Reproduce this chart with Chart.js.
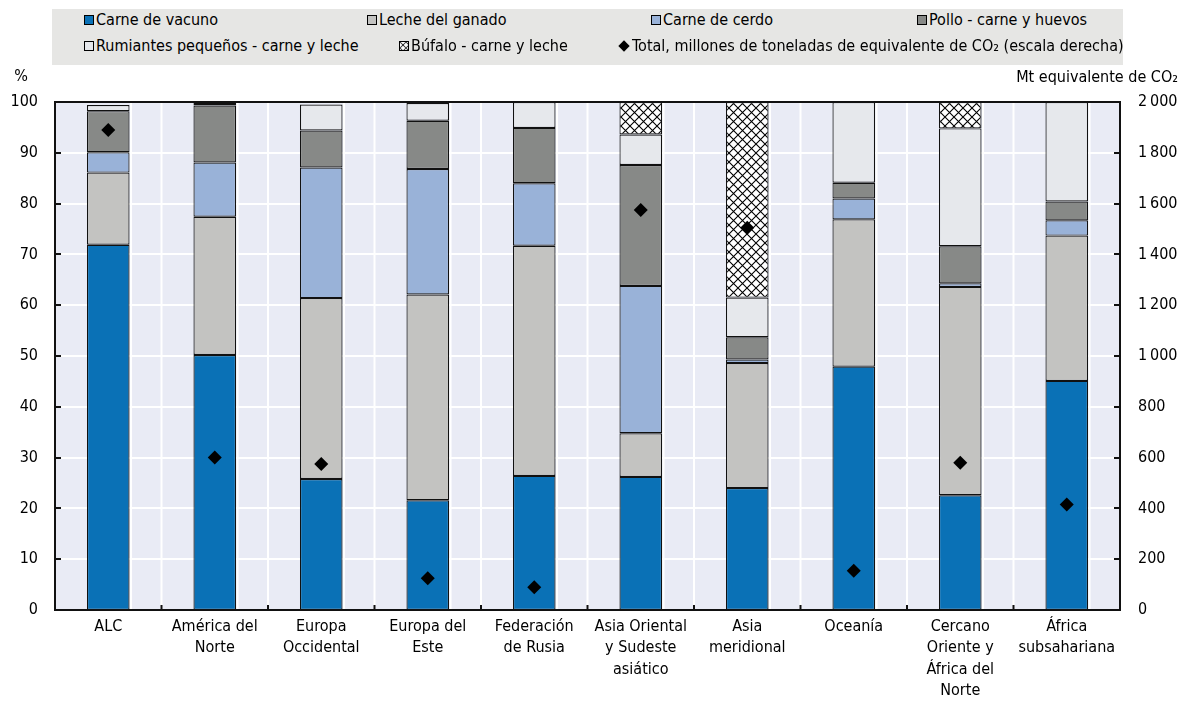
<!DOCTYPE html>
<html lang="es">
<head>
<meta charset="utf-8">
<title>Emisiones ganaderas por región</title>
<script src="https://cdn.jsdelivr.net/npm/chart.js@4.4.1/dist/chart.umd.min.js"></script>
<style>
  html, body { margin: 0; padding: 0; background: #fff; }
  #wrap { position: relative; width: 1180px; height: 702px; overflow: hidden;
          font-family: "DejaVu Sans Condensed", "Liberation Sans", sans-serif; }
  #chart { position: absolute; left: 0; top: 0; }
  #legend { position: absolute; left: 52px; top: 9px; width: 1071px; height: 56px; background: #E6E6E4; }
  .item { position: absolute; height: 22px; line-height: 22px; display: flex; align-items: center;
          font-size: 16px; color: #000; white-space: nowrap; }
  .sw { box-sizing: border-box; width: 10px; height: 10px; border: 1px solid #000; margin-right: 2px; flex: none; }
  .dia { width: 8px; height: 8px; background: #000; transform: rotate(45deg); margin: 0 4px 0 1px; flex: none; }
</style>
</head>
<body>
<div id="wrap">
  <canvas id="chart" width="1180" height="702"></canvas>
  <div id="legend"></div>
</div>
<script>
// Regions (x axis)
const categories = [
  'ALC',
  ['América del', 'Norte'],
  ['Europa', 'Occidental'],
  ['Europa del', 'Este'],
  ['Federación', 'de Rusia'],
  ['Asia Oriental', 'y Sudeste', 'asiático'],
  ['Asia', 'meridional'],
  'Oceanía',
  ['Cercano', 'Oriente y', 'África del', 'Norte'],
  ['África', 'subsahariana']
];

// Share of emissions by product, % (left scale)
const carneVacuno = [71.9, 50.2, 25.8, 21.6, 26.4, 26.2, 24.0, 47.9, 22.6, 45.1];
const lecheGanado = [14.2, 27.2, 35.6, 40.5, 45.3, 8.6, 24.6, 29.0, 41.0, 28.6];
const carneCerdo  = [4.0, 10.7, 25.7, 24.7, 12.3, 29.0, 0.7, 4.1, 0.7, 3.0];
const polloHuevos = [8.1, 11.2, 7.3, 9.5, 10.9, 23.8, 4.4, 3.1, 7.3, 3.7];
const rumiantes   = [1.2, 0.5, 5.1, 3.5, 5.1, 6.0, 7.8, 15.9, 23.2, 19.6];
const bufalo      = [null, null, null, null, null, 6.4, 38.5, null, 5.2, null];

// Total emissions, Mt CO2 equivalent (right scale)
const totalMt = [1890, 600, 575, 125, 90, 1575, 1505, 155, 580, 415];

// Tick labels
const pctTicks = ['0', '10', '20', '30', '40', '50', '60', '70', '80', '90', '100'];
const mtTicks = ['0', '200', '400', '600', '800', '1\u2009000', '1\u2009200', '1\u2009400', '1\u2009600', '1\u2009800', '2\u2009000'];

const FONT = '"DejaVu Sans Condensed", "Liberation Sans", sans-serif';
const FONT_SIZE = 16;

// Cross-hatch fill used for the buffalo segments
function makeHatch() {
  const s = 9;
  const c = document.createElement('canvas');
  c.width = s; c.height = s;
  const g = c.getContext('2d');
  g.fillStyle = '#fff';
  g.fillRect(0, 0, s, s);
  g.strokeStyle = '#000';
  g.lineWidth = 1.1;
  g.beginPath();
  g.moveTo(0, 0); g.lineTo(s, s);
  g.moveTo(s, 0); g.lineTo(0, s);
  g.stroke();
  return c;
}
const hatchCanvas = makeHatch();
const ctx = document.getElementById('chart').getContext('2d');
const hatch = ctx.createPattern(hatchCanvas, 'repeat');

function barSet(label, data, color) {
  return {
    type: 'bar', label, data,
    backgroundColor: color,
    borderColor: '#111',
    borderWidth: 1.2,
    borderSkipped: false,
    barPercentage: 0.4,
    categoryPercentage: 1.0,
    yAxisID: 'y',
    stack: 's',
    order: 1
  };
}

const datasets = [
  barSet('Carne de vacuno', carneVacuno, '#0A71B6'),
  barSet('Leche del ganado', lecheGanado, '#C3C3C1'),
  barSet('Carne de cerdo', carneCerdo, '#99B2D8'),
  barSet('Pollo - carne y huevos', polloHuevos, '#878987'),
  barSet('Rumiantes pequeños - carne y leche', rumiantes, '#E6E8EC'),
  barSet('Búfalo - carne y leche', bufalo, hatch),
  {
    type: 'line',
    label: 'Total, millones de toneladas de equivalente de CO\u2082 (escala derecha)',
    data: totalMt,
    showLine: false,
    pointStyle: 'rectRot',
    pointRadius: 7,
    pointBackgroundColor: '#000',
    pointBorderColor: '#000',
    pointBorderWidth: 0,
    yAxisID: 'y2',
    order: 0
  }
];

// Plot background, white grid, frame, inner tick marks and axis titles
const frame = {
  id: 'frame',
  beforeDatasetsDraw(chart) {
    const { ctx, chartArea: a, scales } = chart;
    const x = scales.x, y = scales.y;
    const step = x.getPixelForValue(1) - x.getPixelForValue(0);
    ctx.save();
    ctx.fillStyle = '#E9EBF5';
    ctx.fillRect(a.left, a.top, a.right - a.left, a.bottom - a.top);
    ctx.strokeStyle = '#ffffff';
    ctx.lineWidth = 2;
    ctx.beginPath();
    y.ticks.forEach(t => {
      const py = Math.round(y.getPixelForValue(t.value));
      ctx.moveTo(a.left, py); ctx.lineTo(a.right, py);
    });
    categories.forEach((c, i) => {
      const cx = x.getPixelForValue(i);
      [cx - step / 2, cx + step * 0.2 + 1.5].forEach(px => {
        ctx.moveTo(px, a.top); ctx.lineTo(px, a.bottom);
      });
    });
    ctx.stroke();
    ctx.restore();
  },
  afterDatasetsDraw(chart) {
    const { ctx, chartArea: a, scales } = chart;
    const x = scales.x, y = scales.y;
    const step = x.getPixelForValue(1) - x.getPixelForValue(0);
    ctx.save();
    ctx.strokeStyle = '#111';
    ctx.lineWidth = 2;
    ctx.beginPath();
    y.ticks.forEach(t => {
      const py = Math.round(y.getPixelForValue(t.value));
      ctx.moveTo(a.left, py); ctx.lineTo(a.left + 6, py);
      ctx.moveTo(a.right - 6, py); ctx.lineTo(a.right, py);
    });
    for (let i = 1; i < categories.length; i++) {
      const px = x.getPixelForValue(i) - step / 2;
      ctx.moveTo(px, a.bottom); ctx.lineTo(px, a.bottom - 5);
    }
    ctx.stroke();
    ctx.strokeRect(a.left, a.top, a.right - a.left, a.bottom - a.top);
    ctx.restore();
  },
  afterDraw(chart) {
    const { ctx, chartArea: a } = chart;
    ctx.save();
    ctx.fillStyle = '#000';
    ctx.font = FONT_SIZE + 'px ' + FONT;
    ctx.textBaseline = 'middle';
    ctx.textAlign = 'center';
    ctx.fillText('%', 21, a.top - 25);
    ctx.textAlign = 'right';
    ctx.fillText('Mt equivalente de CO\u2082', 1178, a.top - 24);
    ctx.restore();
  }
};

const chart = new Chart(ctx, {
  data: { labels: categories, datasets },
  options: {
    responsive: false,
    animation: false,
    devicePixelRatio: 1,
    layout: { padding: { top: 102, left: 0, right: 0, bottom: 0 } },
    plugins: { legend: { display: false }, tooltip: { enabled: false } },
    scales: {
      x: {
        stacked: true,
        grid: { display: false, drawTicks: false },
        border: { display: false },
        ticks: {
          color: '#000', padding: 6, maxRotation: 0, autoSkip: false,
          font: { family: FONT, size: FONT_SIZE, lineHeight: 1.34 }
        },
        afterFit(s) { s.height = 92; }
      },
      y: {
        position: 'left', stacked: true, min: 0, max: 100,
        grid: { display: false, drawTicks: false },
        border: { display: false },
        ticks: {
          stepSize: 10, color: '#000', padding: 17,
          font: { family: FONT, size: FONT_SIZE },
          callback: (v, i) => pctTicks[i]
        },
        afterFit(s) { s.width = 55; }
      },
      y2: {
        position: 'right', stacked: false, min: 0, max: 2000,
        grid: { display: false, drawTicks: false },
        border: { display: false },
        ticks: {
          stepSize: 200, color: '#000', padding: 18,
          font: { family: FONT, size: FONT_SIZE },
          callback: (v, i) => mtTicks[i]
        },
        afterFit(s) { s.width = 60; }
      }
    }
  },
  plugins: [frame]
});

// Two-row legend built from the chart's own datasets
const legendSlots = [[84, 20], [367, 20], [651, 20], [917, 20], [84, 46], [399, 46], [619, 46]];
const legendBox = document.getElementById('legend');
const hatchURL = hatchCanvas.toDataURL();
chart.data.datasets.forEach((ds, i) => {
  const item = document.createElement('div');
  item.className = 'item';
  item.style.left = (legendSlots[i][0] - 52) + 'px';
  item.style.top = (legendSlots[i][1] - 9 - 11) + 'px';
  const mark = document.createElement('span');
  if (ds.type === 'line') {
    mark.className = 'dia';
  } else {
    mark.className = 'sw';
    if (typeof ds.backgroundColor === 'string') {
      mark.style.background = ds.backgroundColor;
    } else {
      mark.style.backgroundImage = 'url(' + hatchURL + ')';
      mark.style.backgroundSize = '6px 6px';
    }
  }
  const txt = document.createElement('span');
  txt.textContent = ds.label;
  item.appendChild(mark);
  item.appendChild(txt);
  legendBox.appendChild(item);
});
</script>
</body>
</html>
